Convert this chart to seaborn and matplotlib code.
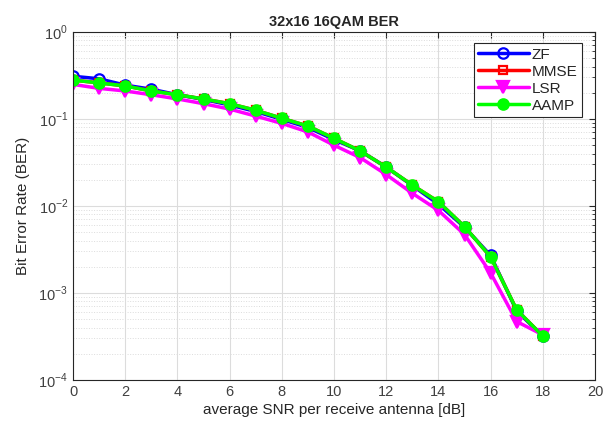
import numpy as np
import pandas as pd
import matplotlib
matplotlib.use("Agg")
import matplotlib.pyplot as plt
import seaborn as sns
from matplotlib.ticker import LogLocator, NullFormatter, FixedLocator

snr = [0, 1, 2, 3, 4, 5, 6, 7, 8, 9, 10, 11, 12, 13, 14, 15, 16, 17, 18]
ber_zf = [0.31, 0.29, 0.245, 0.22, 0.19, 0.168, 0.145, 0.122, 0.099, 0.08, 0.058, 0.043, 0.028, 0.0172, 0.0105, 0.0057, 0.0027, 0.00062, 0.00032]
ber_mmse = [0.28, 0.26, 0.24, 0.21, 0.19, 0.17, 0.15, 0.126, 0.102, 0.083, 0.06, 0.043, 0.028, 0.0174, 0.0112, 0.0058, 0.0026, 0.00064, 0.00032]
ber_lsr = [0.25, 0.225, 0.21, 0.19, 0.17, 0.15, 0.13, 0.108, 0.089, 0.071, 0.05, 0.036, 0.023, 0.014, 0.0089, 0.0047, 0.0017, 0.00047, 0.00033]
ber_aamp = [0.28, 0.26, 0.24, 0.21, 0.19, 0.17, 0.15, 0.126, 0.102, 0.083, 0.06, 0.043, 0.028, 0.0174, 0.0112, 0.0058, 0.0026, 0.00064, 0.00032]
labels = ["ZF", "MMSE", "LSR", "AAMP"]
title = "32x16 16QAM BER"
xlabel = "average SNR per receive antenna [dB]"
ylabel = "Bit Error Rate (BER)"

sns.set_style("white")
plt.rcParams['font.family'] = ['Liberation Sans', 'DejaVu Sans']
plt.rcParams['mathtext.fontset'] = 'custom'
plt.rcParams['mathtext.rm'] = 'Liberation Sans'

fig = plt.figure(figsize=(6.14, 4.21), dpi=100)
ax = fig.add_axes([73/614, 1-380/421, (595-73)/614, (380-32)/421])

series = [ber_zf, ber_mmse, ber_lsr, ber_aamp]
colors = ["#0000ff", "#ff0000", "#ff00ff", "#00ff00"]
markers = ["o", "s", "v", "o"]
faces = ["none", "none", "#ff00ff", "#00ff00"]
msizes = [7.5, 5.5, 8.5, 7.5]
for vals, lab, c, m, fc, ms in zip(series, labels, colors, markers, faces, msizes):
    df = pd.DataFrame({"snr": snr, "ber": vals})
    sns.lineplot(data=df, x="snr", y="ber", ax=ax, color=c, marker=m,
                 markerfacecolor=fc, markeredgecolor=c, markersize=ms,
                 markeredgewidth=1.6, linewidth=2.5, label=lab)

ax.set_yscale("log")
ax.set_xlim(0, 20)
ax.set_ylim(1e-4, 1)
ax.set_xticks(range(0, 21, 2))
ax.yaxis.set_major_locator(FixedLocator([1e-4, 1e-3, 1e-2, 1e-1, 1]))
ax.yaxis.set_minor_locator(LogLocator(base=10, subs=np.arange(2, 10)))
ax.yaxis.set_minor_formatter(NullFormatter())
ax.set_yticklabels([r"$10^{-4}$", r"$10^{-3}$", r"$10^{-2}$", r"$10^{-1}$", r"$10^{0}$"])

ax.grid(True, which="major", color="#dcdcdc", linewidth=0.8, linestyle="-")
ax.grid(True, which="minor", axis="y", color="#dcdcdc", linewidth=0.7, linestyle=":")
ax.set_axisbelow(True)

ax.tick_params(which="both", direction="in", top=True, right=True, colors="#262626",
               labelcolor="#404040", labelsize=10.5)
ax.tick_params(which="major", length=4)
ax.tick_params(which="minor", length=2.5)
for s in ax.spines.values():
    s.set_color("#262626")
    s.set_linewidth(0.8)

ax.set_title(title, fontsize=10.5, fontweight="bold", pad=4)
ax.set_xlabel(xlabel, fontsize=11, labelpad=3, color="#262626")
ax.set_ylabel(ylabel, fontsize=11, labelpad=6, color="#262626")

leg = ax.legend(loc="upper right", bbox_to_anchor=((582-73)/522, 1-(43-32)/348), fontsize=11,
                handlelength=3.3, handletextpad=0.2, borderpad=0.3, labelspacing=0.2,
                frameon=True, fancybox=False, framealpha=1, edgecolor="#262626",
                borderaxespad=0)
leg.get_frame().set_linewidth(0.8)

fig.savefig("out.png", dpi=100)
